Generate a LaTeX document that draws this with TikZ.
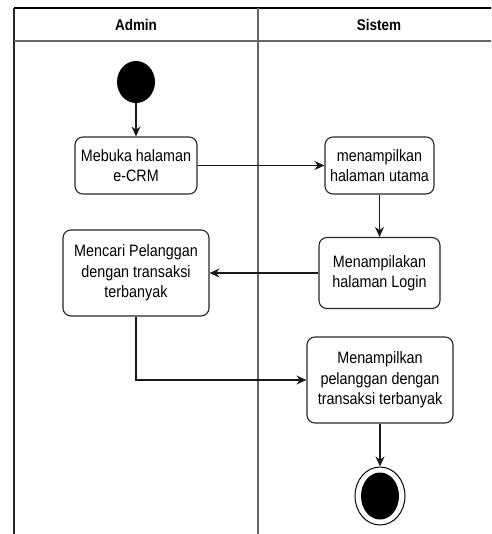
\documentclass[tikz,border=0pt]{standalone}
\usepackage{fontspec}
\setmainfont{Liberation Sans}[FakeStretch=0.87]
\usepackage{tikz}
\usetikzlibrary{arrows.meta, positioning, shapes.geometric}
\tikzstyle{activity} = [rectangle, draw=black!85, line width=1.1pt, rounded corners=8pt,
                        align=center, inner sep=2pt,
                        font=\fontsize{16.5}{20.5}\selectfont]
\tikzstyle{startnode} = [ellipse, fill=black, minimum width=38pt, minimum height=42pt, inner sep=0pt]
\tikzstyle{endnode} = [ellipse, draw=black, line width=1pt, fill=white,
                       minimum width=50pt, minimum height=58pt, inner sep=0pt]
\tikzstyle{arrow} = [line width=1.1pt, black!90, -{Stealth[length=10pt,width=9pt]}]
\tikzstyle{lane} = [line width=1.6pt]
\tikzstyle{lanetitle} = [font=\bfseries\fontsize{15.5}{18}\selectfont]

\begin{document}
\begin{tikzpicture}[x=1pt, y=-1pt]
\useasboundingbox (0,0) rectangle (491,534);
\clip (0,0) rectangle (491,534);
% swimlanes
\draw [lane, black] (14,8) -- (500,8);
\draw [lane, black!85] (14,8) -- (14,540);
\draw [lane, black!60] (14,41) -- (500,41);
\draw [lane, black!60] (258,8) -- (258,540);
\node [lanetitle] at (136,25) (admin) {Admin};
\node [lanetitle] at (379,25) (sistem) {Sistem};
% activities
\node [startnode] at (136,82) (start) {};
\node [activity, minimum width=122pt, minimum height=57pt] at (136,165.5) (buka_ecrm)
	{Mebuka halaman\\e-CRM};
\node [activity, minimum width=109pt, minimum height=57pt] at (379.5,165.5) (halaman_utama)
	{menampilkan\\halaman utama};
\node [activity, minimum width=121pt, minimum height=71pt] at (379.5,273) (halaman_login)
	{Menampilakan\\halaman Login};
\node [activity, minimum width=146pt, minimum height=86pt] at (136,273) (cari_pelanggan)
	{Mencari Pelanggan\\dengan transaksi\\terbanyak};
\node [activity, minimum width=146pt, minimum height=86pt] at (380,380) (tampil_pelanggan)
	{Menampilkan\\pelanggan dengan\\transaksi terbanyak};
\node [endnode] at (380,496) (end) {};
\node [ellipse, fill=black, minimum width=38pt, minimum height=47pt, inner sep=0pt]
	at (end) (end_dot) {};
% flows
\draw [arrow] (start) -- (buka_ecrm);
\draw [arrow] (buka_ecrm) -- (halaman_utama);
\draw [arrow] (halaman_utama) -- (halaman_login);
\draw [arrow] (halaman_login) -- (cari_pelanggan);
\draw [arrow] (cari_pelanggan.south) |- (tampil_pelanggan.west);
\draw [arrow] (tampil_pelanggan) -- (end);
\end{tikzpicture}
\end{document}
